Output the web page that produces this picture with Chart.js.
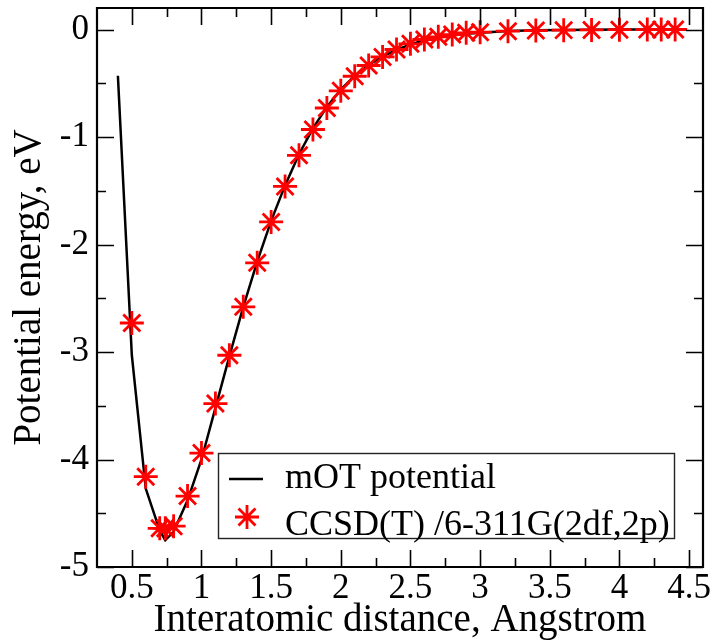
<!DOCTYPE html>
<html>
<head>
<meta charset="utf-8">
<script src="https://cdn.jsdelivr.net/npm/chart.js@4.4.1/dist/chart.umd.min.js"></script>
<style>
  html, body { margin: 0; padding: 0; background: #fff; }
  #wrap { width: 718px; height: 642px; }
</style>
</head>
<body>
<div id="wrap"><canvas id="chart" width="718" height="642"></canvas></div>
<script>
// mOT potential curve (black line)
const motX = [0.4, 0.5, 0.6, 0.7, 0.74, 0.8, 0.9, 1.0, 1.1, 1.2, 1.3, 1.4, 1.5, 1.6, 1.7, 1.8, 1.9,
              2.0, 2.1, 2.2, 2.3, 2.4, 2.5, 2.6, 2.7, 2.8, 2.9, 3.0, 3.2, 3.4, 3.6, 3.8, 4.0, 4.2, 4.4];
const motY = [-0.43, -3.03, -4.27, -4.66, -4.75, -4.67, -4.38, -4.00, -3.52, -3.04, -2.58, -2.16, -1.78,
              -1.45, -1.16, -0.92, -0.72, -0.56, -0.43, -0.33, -0.25, -0.19, -0.14, -0.10, -0.075,
              -0.055, -0.04, -0.03, -0.015, -0.008, -0.004, -0.002, -0.001, 0, 0];

// CCSD(T) points (red asterisks)
const ccsdX = [0.5, 0.6, 0.7, 0.74, 0.8, 0.9, 1.0, 1.1, 1.2, 1.3, 1.4, 1.5, 1.6, 1.7, 1.8, 1.9,
               2.0, 2.1, 2.2, 2.3, 2.4, 2.5, 2.6, 2.7, 2.8, 2.9, 3.0, 3.2, 3.4, 3.6, 3.8, 4.0, 4.2, 4.3, 4.4];
const ccsdY = [-2.73, -4.16, -4.64, -4.64, -4.62, -4.34, -3.94, -3.48, -3.03, -2.58, -2.17, -1.79,
               -1.46, -1.17, -0.93, -0.73, -0.57, -0.435, -0.335, -0.255, -0.186, -0.133, -0.093,
               -0.068, -0.047, -0.031, -0.025, -0.016, -0.01, -0.006, -0.004, -0.002, -0.001, -0.001, 0];

const xTickLabels = [0.5, 1, 1.5, 2, 2.5, 3, 3.5, 4, 4.5];
const xMinorTicks = [0.75, 1.25, 1.75, 2.25, 2.75, 3.25, 3.75, 4.25];
const yTickLabels = [-5, -4, -3, -2, -1, 0];
const yMinorTicks = [-4.5, -3.5, -2.5, -1.5, -0.5];

const FONT = "'Liberation Serif', 'Times New Roman', serif";

// inward ticks on all four sides + frame
const frameTicks = {
    id: 'frameTicks',
    afterDraw(chart) {
        const { ctx, chartArea: a, scales: { x, y } } = chart;
        ctx.save();
        ctx.strokeStyle = '#000';
        ctx.lineWidth = 1.6;
        ctx.beginPath();
        const xt = (vals, len) => vals.forEach(v => {
            const px = Math.round(x.getPixelForValue(v)) + 0.5;
            ctx.moveTo(px, a.bottom); ctx.lineTo(px, a.bottom - len);
            ctx.moveTo(px, a.top); ctx.lineTo(px, a.top + len);
        });
        const yt = (vals, len) => vals.forEach(v => {
            const py = Math.round(y.getPixelForValue(v)) + 0.5;
            ctx.moveTo(a.left, py); ctx.lineTo(a.left + len, py);
            ctx.moveTo(a.right, py); ctx.lineTo(a.right - len, py);
        });
        xt(xTickLabels, 17); xt(xMinorTicks, 9);
        yt(yTickLabels, 17); yt(yMinorTicks, 9);
        ctx.stroke();

        ctx.lineWidth = 2.2;
        ctx.beginPath();
        ctx.rect(a.left, a.top, a.right - a.left, a.bottom - a.top);
        ctx.stroke();
        ctx.restore();
    }
};

// legend box inside the plot
const boxLegend = {
    id: 'boxLegend',
    afterDraw(chart) {
        const ctx = chart.ctx;
        const ds = chart.data.datasets;
        ctx.save();
        ctx.fillStyle = '#fff';
        ctx.fillRect(218, 453, 456, 85);
        ctx.strokeStyle = '#222';
        ctx.lineWidth = 1.4;
        ctx.strokeRect(218.5, 453.5, 456, 85);

        // line sample
        ctx.strokeStyle = '#000';
        ctx.lineWidth = 2.5;
        ctx.beginPath();
        ctx.moveTo(229, 479); ctx.lineTo(263, 479);
        ctx.stroke();

        // star sample
        ctx.strokeStyle = '#ff0000';
        ctx.fillStyle = '#ff0000';
        ctx.lineWidth = 2.8;
        Chart.helpers.drawPoint(ctx, { pointStyle: 'star', radius: 12, borderWidth: 2.8, rotation: 0 }, 247, 517);

        ctx.fillStyle = '#000';
        ctx.font = '36px ' + FONT;
        ctx.textBaseline = 'alphabetic';
        ctx.fillText(ds[1].label, 285, 488);
        ctx.fillText(ds[0].label, 285, 535);
        ctx.restore();
    }
};

const ctx = document.getElementById('chart').getContext('2d');
new Chart(ctx, {
    type: 'scatter',
    data: {
        datasets: [
            {
                label: 'CCSD(T) /6-311G(2df,2p)',
                data: ccsdX.map((v, i) => ({ x: v, y: ccsdY[i] })),
                pointStyle: 'star',
                pointRadius: 12,
                pointBorderWidth: 2.8,
                borderColor: '#ff0000',
                backgroundColor: '#ff0000',
                order: 1
            },
            {
                type: 'line',
                label: 'mOT potential',
                data: motX.map((v, i) => ({ x: v, y: motY[i] })),
                borderColor: '#000',
                borderWidth: 2.5,
                pointRadius: 0,
                tension: 0,
                fill: false,
                order: 2
            }
        ]
    },
    options: {
        responsive: false,
        animation: false,
        devicePixelRatio: 1,
        layout: { autoPadding: false, padding: { top: 8, right: 15, left: 0, bottom: 0 } },
        plugins: {
            legend: { display: false },
            tooltip: { enabled: false }
        },
        scales: {
            x: {
                type: 'linear',
                min: 0.25,
                max: 4.6,
                grid: { display: false, drawTicks: false },
                border: { display: false },
                afterBuildTicks: s => { s.ticks = xTickLabels.map(v => ({ value: v })); },
                afterFit: s => { s.height = 75; s.paddingLeft = 0; s.paddingRight = 0; },
                ticks: {
                    color: '#000',
                    padding: 4,
                    maxRotation: 0,
                    autoSkip: false,
                    font: { family: FONT, size: 35, lineHeight: 1 },
                    callback: v => String(v)
                },
                title: {
                    display: true,
                    text: 'Interatomic distance, Angstrom',
                    color: '#000',
                    font: { family: FONT, size: 39, lineHeight: 1 },
                    padding: { top: 0, bottom: 2 }
                }
            },
            y: {
                type: 'linear',
                min: -5,
                max: 0.2,
                grid: { display: false, drawTicks: false },
                border: { display: false },
                afterBuildTicks: s => { s.ticks = yTickLabels.map(v => ({ value: v })); },
                afterFit: s => { s.width = 97; s.paddingTop = 0; s.paddingBottom = 0; },
                ticks: {
                    color: '#000',
                    padding: 8,
                    autoSkip: false,
                    font: { family: FONT, size: 35 },
                    callback: v => String(v)
                },
                title: {
                    display: true,
                    text: 'Potential energy, eV',
                    color: '#000',
                    font: { family: FONT, size: 39, lineHeight: 1 },
                    padding: { top: 10, bottom: 0 }
                }
            }
        }
    },
    plugins: [frameTicks, boxLegend]
});
</script>
</body>
</html>
